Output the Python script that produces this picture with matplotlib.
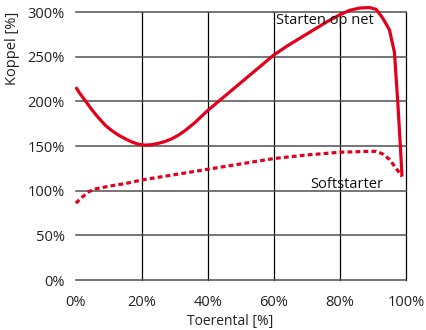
import matplotlib
matplotlib.use("Agg")
import matplotlib.pyplot as plt

plt.rcParams['font.family'] = ['Open Sans', 'DejaVu Sans']

# toerental [%] en koppel [%]
net_x = [0, 1, 3, 5, 7, 9, 11, 13, 15, 17, 19, 21, 23, 25, 27, 29, 31, 33, 36, 40, 50,
         60, 64, 68, 72, 76, 80, 83, 86, 89, 91, 93, 95, 96.5, 97.5, 98.3, 98.8]
net_y = [216, 210, 200, 190, 181, 173, 167, 162, 158, 154.5, 152, 151, 151.5, 153, 155,
         158, 162, 167, 176, 190, 221, 252, 262, 271, 280, 289, 297, 302, 304.5, 305, 303,
         293, 280, 255, 200, 150, 116]

soft_x = [0, 2, 4, 6, 10, 15, 20, 30, 40, 50, 60, 70, 80, 88, 91, 93, 95, 97, 98.8]
soft_y = [86, 93, 99, 102, 105, 108, 112, 118, 124, 130, 136, 140, 143, 144, 144, 141,
          135, 125, 116]

x_ticks = [0, 20, 40, 60, 80, 100]
y_ticks = [0, 50, 100, 150, 200, 250, 300]

red = '#e3001b'

fig = plt.figure(figsize=(4.26, 3.30), dpi=100)
ax = fig.add_axes([0.178, 0.1515, 0.775, 0.812])

ax.plot(net_x, net_y, color=red, lw=2.3, clip_on=False, solid_capstyle='butt',
        solid_joinstyle='round', zorder=3)
ax.plot(soft_x, soft_y, color=red, lw=2.3, dashes=(1.5, 1.0), clip_on=False, zorder=3)

ax.set_xlim(0, 100)
ax.set_ylim(0, 300)
ax.set_xticks(x_ticks)
ax.set_yticks(y_ticks)
ax.set_xticklabels([f'{t}%' for t in x_ticks], fontsize=10.5, color='#222222')
ax.set_yticklabels([f'{t}%' for t in y_ticks], fontsize=10.5, color='#222222')
ax.tick_params(length=0, pad=8)
ax.tick_params(axis='x', pad=11)

ax.grid(axis='y', color='#505050', lw=1.1)
ax.grid(axis='x', color='black', lw=0.9)
for gl in ax.get_xgridlines() + ax.get_ygridlines():
    gl.set_clip_on(False)
ax.get_xgridlines()[0].set_visible(False)
for s in ax.spines.values():
    s.set_visible(False)

ax.text(75.5, 290, 'Starten op net', ha='center', va='center', fontsize=10.5, color='#111111')
ax.text(82, 107, 'Softstarter', ha='center', va='center', fontsize=10.5, color='#111111')

ax.set_xlabel('Toerental [%]', fontsize=10, color='#222222')
ax.set_ylabel('Koppel [%]', fontsize=10.5, color='#222222')
ax.xaxis.set_label_coords(0.467, -0.125)
ax.yaxis.set_label_coords(-0.17, 0.865)

fig.savefig('out.png', dpi=100)
